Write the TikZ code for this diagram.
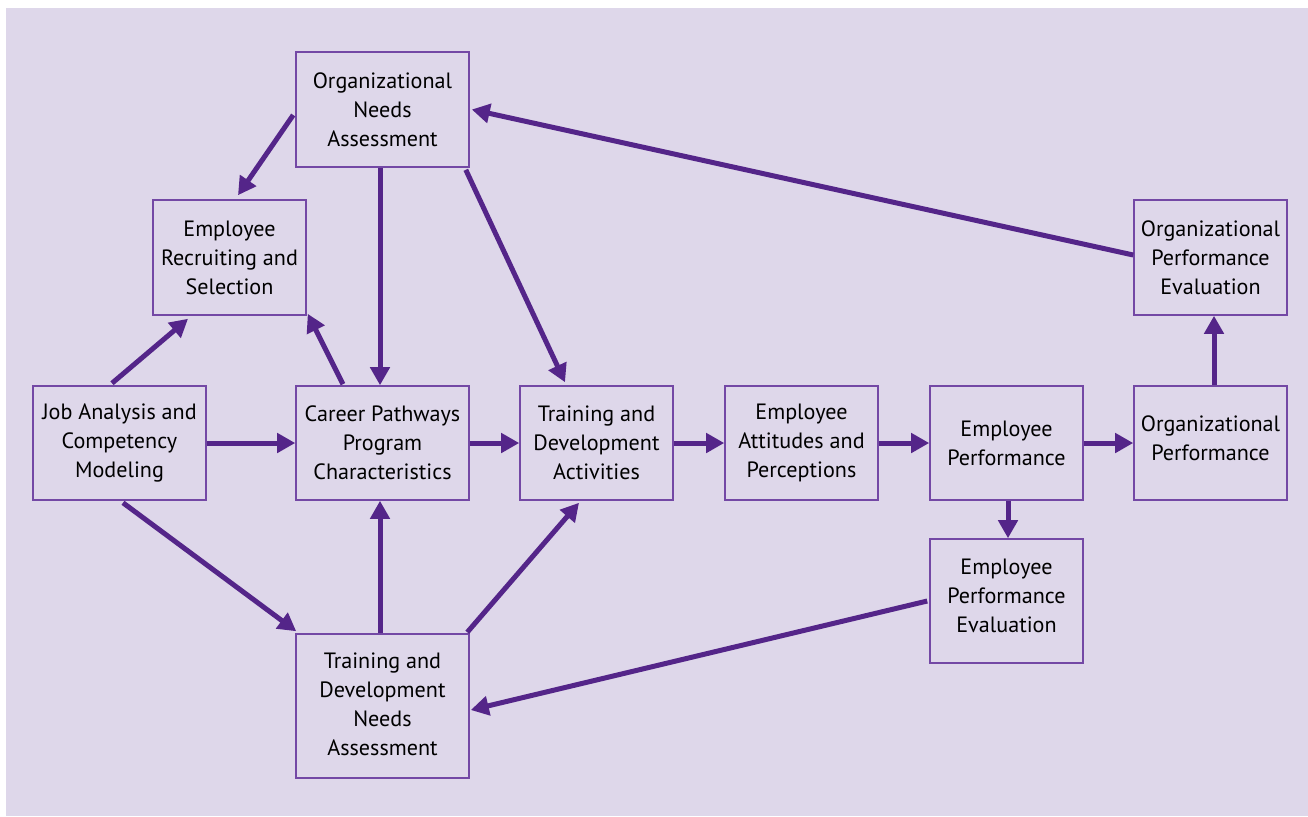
\documentclass[tikz,border=0pt]{standalone}
\usepackage{fontspec}
\setmainfont{PT Sans}
\usetikzlibrary{arrows.meta,calc}
\definecolor{bg}{RGB}{222,215,234}
\definecolor{arr}{RGB}{84,37,137}
\definecolor{bx}{RGB}{115,72,165}
\begin{document}
\begin{tikzpicture}[x=0.02cm,y=-0.02cm,
  box/.style={draw=bx, line width=0.9pt, align=center, inner sep=0pt, font=\fontsize{12.6}{16.5}\selectfont},
  txt/.style={align=center, inner sep=0pt, font=\fontsize{12.6}{16.5}\selectfont},
  wide/.style={minimum width=3.46cm},
  narrow/.style={minimum width=3.06cm},
  link/.style={draw=arr, line width=0.1cm, -{Triangle[length=0.36cm,width=0.38cm]}}]
\useasboundingbox (0,0) rectangle (1308,816);
\fill[bg] (6,8) rectangle (1308,816);
% boxes
\node[box,wide,minimum height=2.3cm] (ona) at (382.5,109.5) {Organizational\\Needs\\Assessment};
\node[box,narrow,minimum height=2.3cm] (ers) at (229.5,257.5) {Employee\\Recruiting and\\Selection};
\node[box,wide,minimum height=2.28cm] (jac) at (119.5,443) {Job Analysis and\\Competency\\Modeling};
\node[box,wide,minimum height=2.28cm] (cpp) at (382.5,443) {Career Pathways\\Program\\Characteristics};
\node[box,narrow,minimum height=2.28cm] (tda) at (596.5,443) {Training and\\Development\\Activities};
\node[box,narrow,minimum height=2.28cm] (eap) at (801.5,443) {Employee\\Attitudes and\\Perceptions};
\node[box,narrow,minimum height=2.28cm] (ep) at (1006.5,443) {Employee\\Performance};
\node[box,narrow,minimum height=2.28cm] (op) at (1210.5,443) {};
\node[txt] (optxt) at (1210.5,438) {Organizational\\Performance};
\node[box,narrow,minimum height=2.3cm] (ope) at (1210.5,257.5) {Organizational\\Performance\\Evaluation};
\node[box,narrow,minimum height=2.48cm] (epe) at (1006.5,601) {};
\node[txt] (epetxt) at (1006.5,596) {Employee\\Performance\\Evaluation};
\node[box,wide,minimum height=2.88cm] (tdn) at (382.5,706) {};
\node[txt] (tdntxt) at (382.5,704) {Training and\\Development\\Needs\\Assessment};
% connectors
\draw[link] ([xshift=-0.04cm,yshift=-0.11cm]ona.west) -- ([xshift=0.17cm,yshift=0.08cm]ers.north);
\draw[link] ([xshift=-0.05cm]ona.south) -- ([xshift=-0.05cm]cpp.north);
\draw[link] ([xshift=-0.08cm,yshift=-0.04cm]ona.south east) -- ([xshift=-0.63cm,yshift=0.06cm]tda.north);
\draw[link] ([yshift=0.05cm]ope.west) -- ([xshift=0.04cm]ona.east);
\draw[link] ([xshift=-0.15cm,yshift=0.04cm]jac.north) -- ([xshift=-0.83cm,yshift=-0.06cm]ers.south);
\draw[link] ([xshift=-0.79cm,yshift=0.02cm]cpp.north) -- ([xshift=0.02cm,yshift=0.04cm]ers.south east);
\draw[link] (jac.east) -- (cpp.west);
\draw[link] ([xshift=0.07cm,yshift=-0.04cm]jac.south) -- ([xshift=0.02cm,yshift=0.04cm]tdn.north west);
\draw[link] (cpp.east) -- (tda.west);
\draw[link] ([xshift=-0.05cm]tdn.north) -- ([xshift=-0.05cm]cpp.south);
\draw[link] ([xshift=-0.05cm,yshift=0.02cm]tdn.north east) -- ([xshift=-0.35cm,yshift=-0.04cm]tda.south);
\draw[link] (tda.east) -- (eap.west);
\draw[link] (eap.east) -- (ep.west);
\draw[link] (ep.east) -- (op.west);
\draw[link] ([xshift=0.07cm]op.north) -- ([xshift=0.07cm]ope.south);
\draw[link] ([xshift=0.03cm]ep.south) -- ([xshift=0.03cm]epe.north);
\draw[link] ([xshift=-0.04cm]epe.west) -- ([xshift=0.02cm,yshift=-0.08cm]tdn.east);
\end{tikzpicture}
\end{document}
